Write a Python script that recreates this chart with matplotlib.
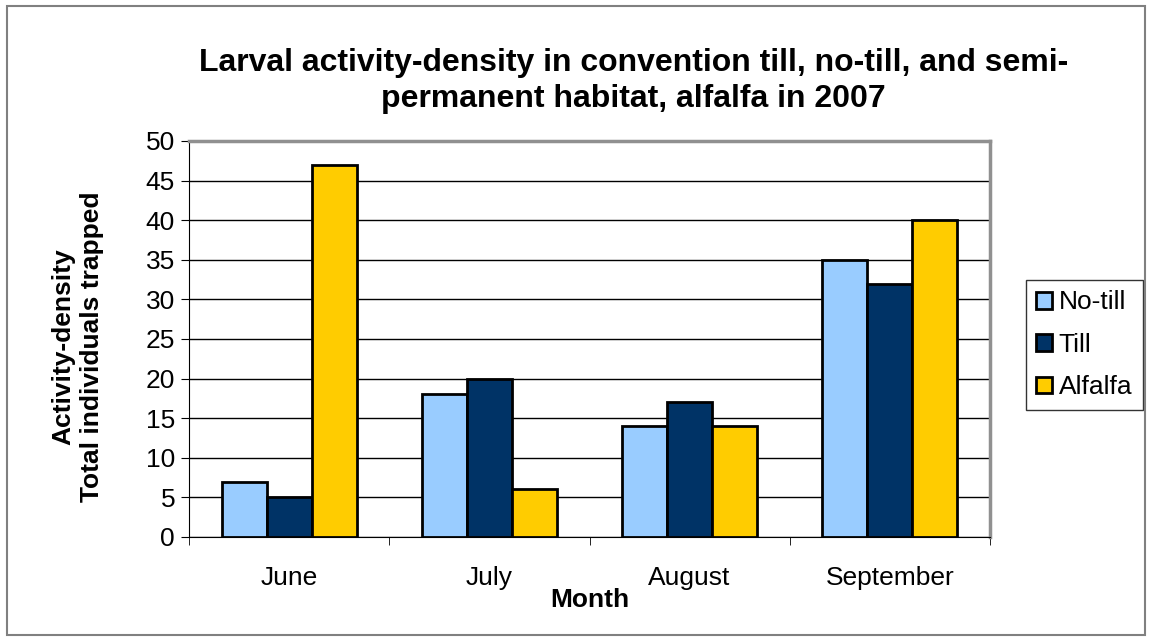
import matplotlib
matplotlib.use("Agg")
import matplotlib.pyplot as plt
import numpy as np

months = ["June", "July", "August", "September"]
no_till = [7, 18, 14, 35]
till = [5, 20, 17, 32]
alfalfa = [47, 6, 14, 40]

series = [("No-till", no_till, "#99ccff"),
          ("Till", till, "#003366"),
          ("Alfalfa", alfalfa, "#ffcc00")]

plt.rcParams['font.family'] = ['Liberation Sans', 'DejaVu Sans']

fig = plt.figure(figsize=(11.52, 6.41), dpi=100)
# outer chart border
fig.patches.append(plt.Rectangle((7 / 1152, 6 / 641), 1 - 14 / 1152, 1 - 12 / 641,
                                 transform=fig.transFigure, fill=False,
                                 edgecolor="#808080", linewidth=1.5))

ax = fig.add_axes([189 / 1152, 1 - 537 / 641, (990 - 189) / 1152, (537 - 141) / 641])

x = np.arange(len(months))
w = 0.225
for i, (name, vals, col) in enumerate(series):
    ax.bar(x + (i - 1) * w, vals, w, color=col, edgecolor="black",
           linewidth=2, label=name, zorder=3)

fs = 19
ax.set_xlim(-0.5, 3.5)
ax.set_ylim(0, 50)
ax.set_yticks(range(0, 51, 5))
ax.set_xticks(x)
ax.set_xticklabels(months, fontsize=fs)
ax.set_xticks(np.arange(-0.5, 4, 1), minor=True)
ax.tick_params(axis='x', which='major', length=0, pad=21)
ax.tick_params(axis='x', which='minor', length=6, color="black")
ax.tick_params(axis='y', labelsize=fs, length=6, direction='out', pad=4)
ax.grid(axis='y', color="black", linewidth=1, zorder=0)
for s in ["top", "right"]:
    ax.spines[s].set_color("#909090")
    ax.spines[s].set_linewidth(2.5)
ax.spines["left"].set_color("black")
ax.spines["bottom"].set_color("black")

ax.set_xlabel("Month", fontsize=fs, fontweight="bold", labelpad=-1.5)
ax.set_ylabel("Activity-density\nTotal individuals trapped", fontsize=fs,
              fontweight="bold", linespacing=1.25)
ax.yaxis.set_label_coords(-0.106, 0.48)
fig.text(0.55, 1 - 81 / 641,
         "Larval activity-density in convention till, no-till, and semi-\npermanent habitat, alfalfa in 2007",
         ha="center", va="center", fontsize=23, fontweight="bold", linespacing=1.25)

leg = ax.legend(loc="center left", bbox_to_anchor=(1.038, 0.485), fontsize=fs,
                frameon=True, fancybox=False, edgecolor="black",
                handlelength=0.6, handleheight=0.6, handletextpad=0.25,
                labelspacing=0.7, borderpad=0.4, borderaxespad=0.2)
leg.get_frame().set_linewidth(1)

fig.savefig("out.png", dpi=100)
